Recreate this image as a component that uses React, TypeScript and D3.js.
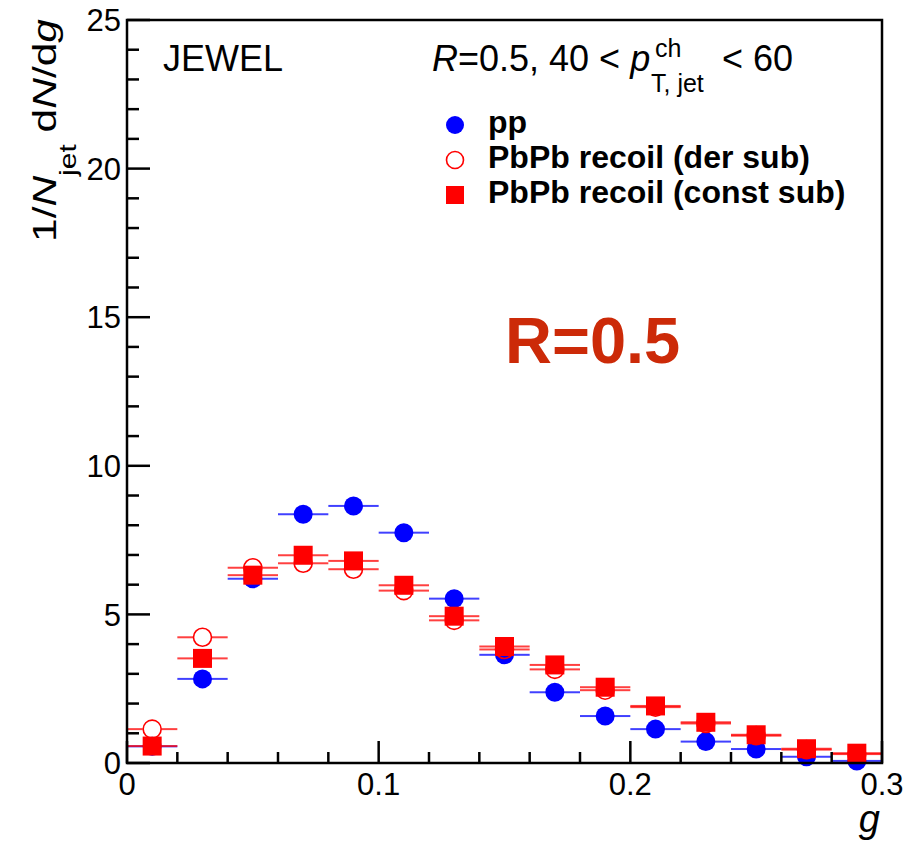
import React from "react";
import * as d3 from "d3";

// ---- data ----
const gCenters = [0.01, 0.03, 0.05, 0.07, 0.09, 0.11, 0.13, 0.15, 0.17, 0.19, 0.21, 0.23, 0.25, 0.27, 0.29];
const binHalfWidth = 0.01;
const ppValues = [0.56, 2.83, 6.2, 8.37, 8.65, 7.75, 5.53, 3.64, 2.38, 1.58, 1.14, 0.72, 0.47, 0.21, 0.07];
const derSubValues = [1.14, 4.23, 6.57, 6.72, 6.52, 5.8, 4.8, 3.82, 3.15, 2.45, 1.88, 1.33, 0.92, 0.45, 0.3];
const constSubValues = [0.57, 3.52, 6.32, 6.99, 6.8, 5.98, 4.94, 3.92, 3.3, 2.55, 1.92, 1.37, 0.95, 0.48, 0.33];
const xMajorTicks = [0, 0.1, 0.2, 0.3];
const xMinorTicks = [0.02, 0.04, 0.06, 0.08, 0.12, 0.14, 0.16, 0.18, 0.22, 0.24, 0.26, 0.28];
const yMajorTicks = [0, 5, 10, 15, 20, 25];
const legendLabels = ["pp", "PbPb recoil (der sub)", "PbPb recoil (const sub)"];

const FONT = "'Liberation Sans', Arial, Helvetica, sans-serif";
const BLUE = "#0000ff";
const RED = "#ff0000";

export default function App() {
  const W = 924, H = 842;
  const x = d3.scaleLinear().domain([0, 0.3]).range([127, 882]);
  const y = d3.scaleLinear().domain([0, 25]).range([763, 20]);
  const yMinor = d3.range(0, 25, 1).filter((v) => v % 5 !== 0);
  const r = 9.5;
  const sq = 19;

  const errLines = (vals: number[], color: string, gap: number, key: string) =>
    gCenters.map((g, i) => {
      const cx = x(g), cy = y(vals[i]);
      const x0 = x(g - binHalfWidth), x1 = x(g + binHalfWidth);
      return (
        <g key={key + i} stroke={color} strokeWidth={2} strokeOpacity={0.75}>
          <line x1={x0} x2={cx - gap} y1={cy} y2={cy} />
          <line x1={cx + gap} x2={x1} y1={cy} y2={cy} />
        </g>
      );
    });

  return (
    <svg width={W} height={H} style={{ display: "block", position: "absolute", left: 0, top: 0 }}>
      <rect x={0} y={0} width={W} height={H} fill="#fff" />
      {/* pp */}
      {errLines(ppValues, BLUE, 0, "ppe")}
      {gCenters.map((g, i) => (
        <circle key={"pp" + i} cx={x(g)} cy={y(ppValues[i])} r={r} fill={BLUE} />
      ))}
      {/* der sub */}
      {errLines(derSubValues, RED, r, "dse")}
      {gCenters.map((g, i) => (
        <circle key={"ds" + i} cx={x(g)} cy={y(derSubValues[i])} r={r - 0.5} fill="none" stroke={RED} strokeWidth={1.6} />
      ))}
      {/* const sub */}
      {errLines(constSubValues, RED, 0, "cse")}
      {gCenters.map((g, i) => (
        <rect key={"cs" + i} x={x(g) - sq / 2} y={y(constSubValues[i]) - sq / 2} width={sq} height={sq} fill={RED} />
      ))}

      {/* frame */}
      <rect x={x(0)} y={y(25)} width={x(0.3) - x(0)} height={y(0) - y(25)} fill="none" stroke="#000" strokeWidth={2.5} />
      {/* y ticks */}
      {yMajorTicks.map((t) => (
        <g key={"ym" + t}>
          <line x1={x(0)} x2={x(0) + 23} y1={y(t)} y2={y(t)} stroke="#000" strokeWidth={2.5} />
          <text x={121} y={y(t)} dy="0.36em" textAnchor="end" fontFamily={FONT} fontSize={31}>{t}</text>
        </g>
      ))}
      {yMinor.map((t) => (
        <line key={"yn" + t} x1={x(0)} x2={x(0) + 12} y1={y(t)} y2={y(t)} stroke="#000" strokeWidth={2.5} />
      ))}
      {/* x ticks */}
      {xMajorTicks.map((t) => (
        <g key={"xm" + t}>
          <line x1={x(t)} x2={x(t)} y1={y(0)} y2={y(0) - 22} stroke="#000" strokeWidth={2.5} />
          <text x={x(t)} y={795} textAnchor="middle" fontFamily={FONT} fontSize={31}>{t === 0 ? "0" : t.toFixed(1)}</text>
        </g>
      ))}
      {xMinorTicks.map((t) => (
        <line key={"xn" + t} x1={x(t)} x2={x(t)} y1={y(0)} y2={y(0) - 11} stroke="#000" strokeWidth={2.5} />
      ))}

      {/* axis titles */}
      <text x={880} y={832} textAnchor="end" fontFamily={FONT} fontSize={38} fontStyle="italic">g</text>
      <g transform="translate(56,242) rotate(-90) scale(1.25,1)">
        <text x={0} y={0} fontFamily={FONT} fontSize={34}>
          <tspan>1/</tspan>
          <tspan fontStyle="italic">N</tspan>
          <tspan fontSize={24} dy={20}>jet</tspan>
          <tspan dy={-20}> d</tspan>
          <tspan fontStyle="italic">N</tspan>
          <tspan>/d</tspan>
          <tspan fontStyle="italic">g</tspan>
        </text>
      </g>

      {/* annotations */}
      <text x={163} y={71} fontFamily={FONT} fontSize={36}>JEWEL</text>
      <text x={432} y={71} fontFamily={FONT} fontSize={36}>
        <tspan fontStyle="italic">R</tspan>
        <tspan>=0.5, 40 &lt; </tspan>
        <tspan fontStyle="italic">p</tspan>
      </text>
      <text x={655} y={57} fontFamily={FONT} fontSize={25}>ch</text>
      <text x={651} y={92} fontFamily={FONT} fontSize={25}>T, jet</text>
      <text x={722} y={71} fontFamily={FONT} fontSize={36}>&lt; 60</text>

      <text x={505} y={363} fontFamily={FONT} fontSize={65} fontWeight="bold" fill="#cc2a08">R=0.5</text>

      {/* legend */}
      <circle cx={455} cy={125} r={9} fill={BLUE} />
      <circle cx={455} cy={160} r={8.5} fill="none" stroke={RED} strokeWidth={1.6} />
      <rect x={455 - 9} y={195 - 9} width={18} height={18} fill={RED} />
      {legendLabels.map((l, i) => (
        <text key={l} x={488} y={133 + i * 35} fontFamily={FONT} fontSize={32} fontWeight="bold">{l}</text>
      ))}
    </svg>
  );
}
